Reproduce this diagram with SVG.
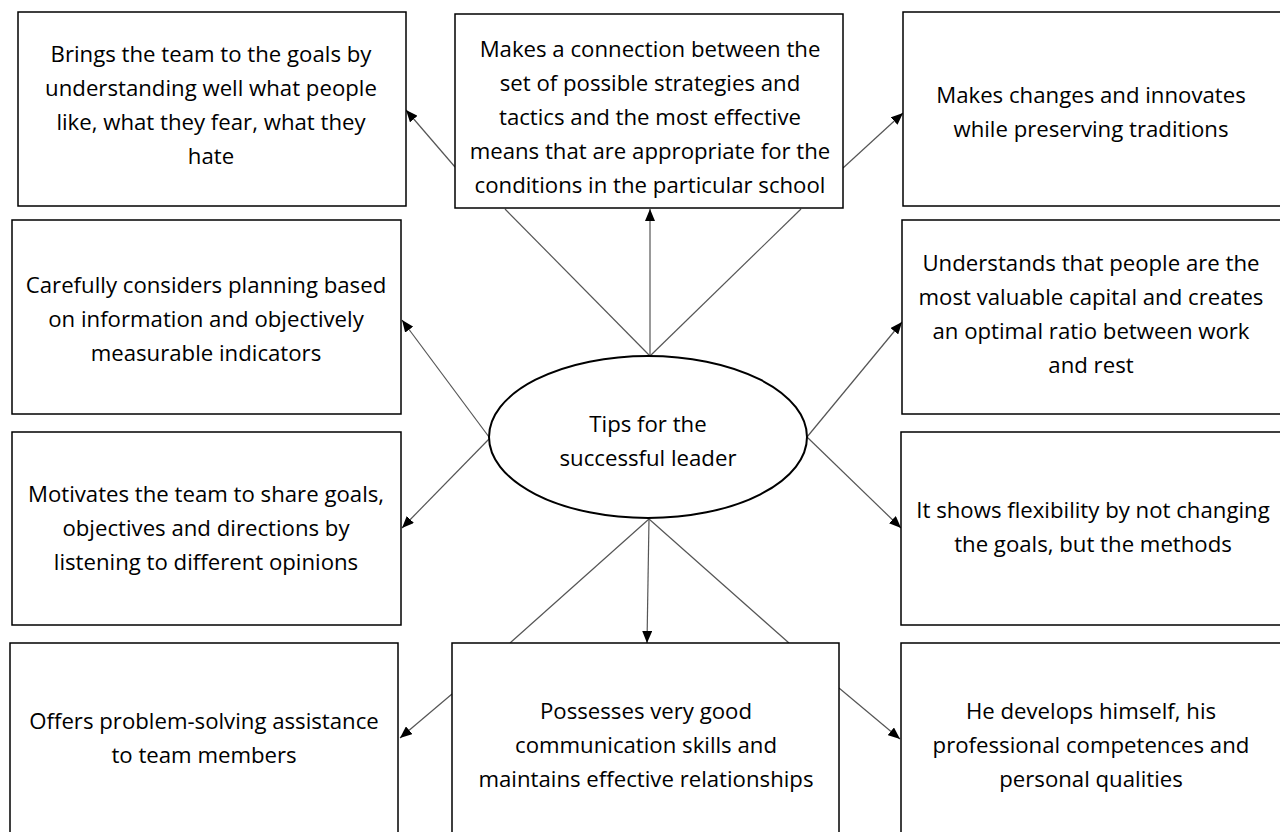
<svg xmlns="http://www.w3.org/2000/svg" width="1280" height="832" viewBox="0 0 1280 832">
<style>
.box{fill:#fff;stroke:#000;stroke-width:1.5}
.ell{fill:#fff;stroke:#000;stroke-width:2}
.ln{stroke:#555;stroke-width:1.2;fill:none}
.ar{stroke:#555;stroke-width:1.2;fill:none;marker-end:url(#ah)}
text{font-family:"Open Sans","Noto Sans",sans-serif;font-size:22.2px;fill:#000;text-anchor:middle}
</style>
<defs>
<marker id="ah" markerUnits="userSpaceOnUse" markerWidth="12" markerHeight="10" refX="12" refY="5" orient="auto">
<path d="M0,0 L12,5 L0,10 z" fill="#000"/>
</marker>
</defs>
<rect width="1280" height="832" fill="#fff"/>
<g id="connectors">
<line class="ln" x1="650" y1="356" x2="505" y2="209"/>
<line class="ar" x1="455" y1="167" x2="406" y2="110"/>
<line class="ar" x1="650" y1="356" x2="650" y2="209"/>
<line class="ln" x1="650" y1="356" x2="801" y2="209"/>
<line class="ar" x1="843" y1="168" x2="903" y2="113"/>
<line class="ar" x1="489" y1="437" x2="402" y2="320"/>
<line class="ar" x1="489" y1="439" x2="402" y2="528"/>
<line class="ar" x1="807" y1="437" x2="902" y2="322"/>
<line class="ar" x1="807" y1="437" x2="901" y2="528"/>
<line class="ln" x1="649" y1="519" x2="510" y2="643"/>
<line class="ar" x1="649" y1="519" x2="647" y2="643"/>
<line class="ln" x1="649" y1="519" x2="789" y2="643"/>
<line class="ar" x1="452" y1="694" x2="400" y2="738"/>
<line class="ar" x1="839" y1="688" x2="900" y2="739"/>
</g>
<g id="n1"><rect class="box" x="18" y="12" width="388" height="194"/>
<text x="211" y="62">Brings the team to the goals by</text>
<text x="211" y="96">understanding well what people</text>
<text x="211" y="130">like, what they fear, what they</text>
<text x="211" y="164">hate</text></g>
<g id="n2"><rect class="box" x="455" y="14" width="388" height="194"/>
<text x="650" y="57">Makes a connection between the</text>
<text x="650" y="91">set of possible strategies and</text>
<text x="650" y="125">tactics and the most effective</text>
<text x="650" y="159">means that are appropriate for the</text>
<text x="650" y="193">conditions in the particular school</text></g>
<g id="n3"><rect class="box" x="903" y="12" width="380" height="194"/>
<text x="1091" y="103">Makes changes and innovates</text>
<text x="1091" y="137">while preserving traditions</text></g>
<g id="n4"><rect class="box" x="12" y="220" width="389" height="194"/>
<text x="206" y="293">Carefully considers planning based</text>
<text x="206" y="327">on information and objectively</text>
<text x="206" y="361">measurable indicators</text></g>
<g id="n5"><rect class="box" x="902" y="220" width="380" height="194"/>
<text x="1091" y="271">Understands that people are the</text>
<text x="1091" y="305">most valuable capital and creates</text>
<text x="1091" y="339">an optimal ratio between work</text>
<text x="1091" y="373">and rest</text></g>
<g id="n6"><rect class="box" x="12" y="432" width="389" height="193"/>
<text x="206" y="502">Motivates the team to share goals,</text>
<text x="206" y="536">objectives and directions by</text>
<text x="206" y="570">listening to different opinions</text></g>
<g id="n7"><rect class="box" x="901" y="432" width="380" height="193"/>
<text x="1093" y="518">It shows flexibility by not changing</text>
<text x="1093" y="552">the goals, but the methods</text></g>
<g id="n8"><rect class="box" x="10" y="643" width="388" height="195"/>
<text x="204" y="729">Offers problem-solving assistance</text>
<text x="204" y="763">to team members</text></g>
<g id="n9"><rect class="box" x="452" y="643" width="387" height="195"/>
<text x="646" y="719">Possesses very good</text>
<text x="646" y="753">communication skills and</text>
<text x="646" y="787">maintains effective relationships</text></g>
<g id="n10"><rect class="box" x="901" y="643" width="380" height="195"/>
<text x="1091" y="719">He develops himself, his</text>
<text x="1091" y="753">professional competences and</text>
<text x="1091" y="787">personal qualities</text></g>
<g id="center"><ellipse class="ell" cx="648" cy="437" rx="159" ry="81"/>
<text x="648" y="432">Tips for the</text>
<text x="648" y="466">successful leader</text></g>
</svg>
